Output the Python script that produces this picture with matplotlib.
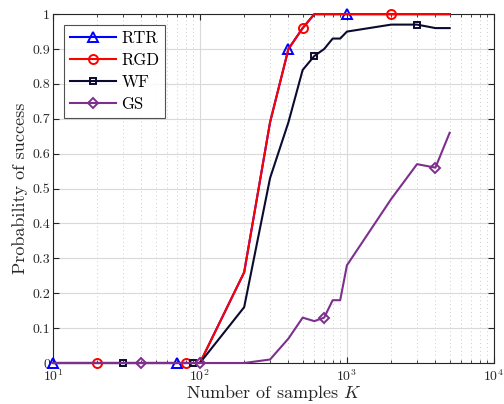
#!/usr/bin/env python3
"""
Probability of success vs number of samples K (RTR, RGD, WF, GS).
"""
import matplotlib
matplotlib.use("Agg")
import matplotlib.pyplot as plt
import numpy as np

# Sample sizes K
K = [10, 20, 30, 40, 50, 60, 70, 80, 90, 100,
     200, 300, 400, 500, 600, 700, 800, 900, 1000,
     2000, 3000, 4000, 5000]

rtr = [0, 0, 0, 0, 0, 0, 0, 0, 0, 0,
       0.26, 0.69, 0.90, 0.96, 1.0, 1.0, 1.0, 1.0, 1.0,
       1.0, 1.0, 1.0, 1.0]
rgd = [0, 0, 0, 0, 0, 0, 0, 0, 0, 0,
       0.26, 0.69, 0.90, 0.96, 1.0, 1.0, 1.0, 1.0, 1.0,
       1.0, 1.0, 1.0, 1.0]
wf = [0, 0, 0, 0, 0, 0, 0, 0, 0, 0,
      0.16, 0.53, 0.69, 0.84, 0.88, 0.90, 0.93, 0.93, 0.95,
      0.97, 0.97, 0.96, 0.96]
gs = [0, 0, 0, 0, 0, 0, 0, 0, 0, 0,
      0, 0.01, 0.07, 0.13, 0.12, 0.13, 0.18, 0.18, 0.28,
      0.47, 0.57, 0.56, 0.66]

LABELS = ["RTR", "RGD", "WF", "GS"]
COLORS = ["#0000ff", "#ff0000", "#0b0b30", "#7e2f8e"]
MARKERS = ["^", "o", "s", "D"]

plt.rcParams["font.family"] = "serif"
plt.rcParams["font.serif"] = ["cmr10"]
plt.rcParams["mathtext.fontset"] = "cm"
plt.rcParams["axes.formatter.use_mathtext"] = True

fig = plt.figure(figsize=(5.04, 4.04), dpi=100)
ax = fig.add_axes([0.105, 0.1015, 0.875, 0.8635])

series = [rtr, rgd, wf, gs]
for i, (vals, lab, col, mk) in enumerate(zip(series, LABELS, COLORS, MARKERS)):
    ms = 5.5 if mk == "D" else (5 if mk == "s" else 6.5)
    ax.plot(K, vals, color=col, lw=1.5, marker=mk, markevery=(i, 6),
            markersize=ms, markerfacecolor="none", markeredgewidth=1.4,
            label=lab, clip_on=False, zorder=3 + i * 0.1)

ax.set_xscale("log")
ax.set_xlim(10, 1e4)
ax.set_ylim(0, 1)
ax.set_yticks(np.arange(0, 1.01, 0.1))
ax.set_yticklabels(["0", "0.1", "0.2", "0.3", "0.4", "0.5", "0.6", "0.7", "0.8", "0.9", "1"])

ax.grid(True, which="major", color="#d9d9d9", lw=0.8, ls="-")
ax.grid(True, which="minor", color="#cccccc", lw=0.7, ls=(0, (1, 3)))
ax.set_axisbelow(True)

ax.tick_params(which="both", direction="in", top=True, right=True,
               labelsize=10, colors="#262626", pad=2)
ax.tick_params(axis="x", which="both", pad=4)
ax.tick_params(which="major", length=4)
ax.tick_params(which="minor", length=2)
for sp in ax.spines.values():
    sp.set_color("#262626")
    sp.set_linewidth(0.8)

ax.set_xlabel(r"Number of samples $K$", fontsize=13, color="#262626", labelpad=-1)
ax.set_ylabel("Probability of success", fontsize=13, color="#262626", labelpad=3)

leg = ax.legend(loc="upper left", bbox_to_anchor=(0.025, 0.97), fontsize=12,
                frameon=True, fancybox=False, edgecolor="#262626",
                handlelength=2.8, borderpad=0.35, labelspacing=0.4,
                handletextpad=0.3, borderaxespad=0)
leg.get_frame().set_linewidth(0.8)
leg.set_zorder(10)

fig.savefig("out.png", dpi=100)
